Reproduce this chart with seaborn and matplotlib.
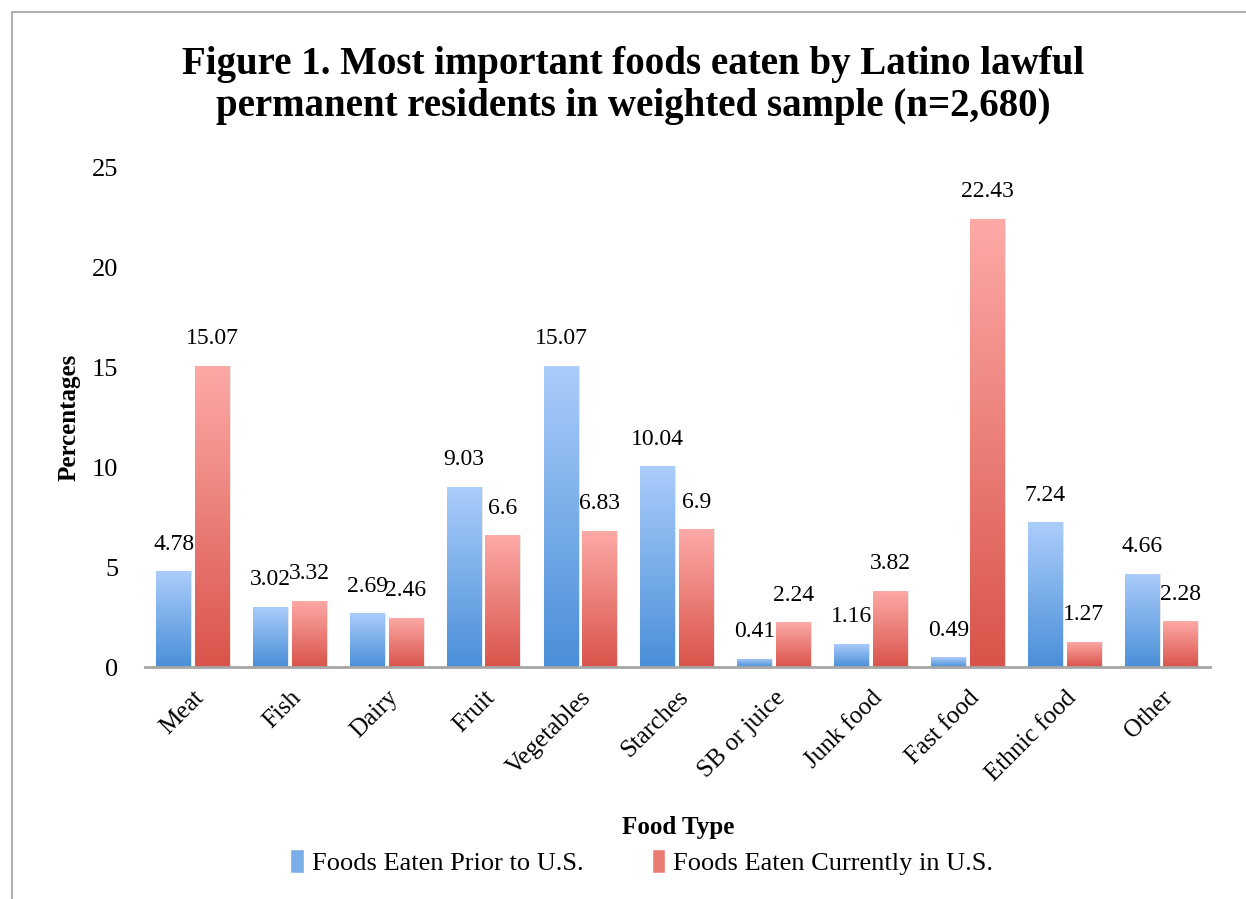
import numpy as np
import pandas as pd
import seaborn as sns
import matplotlib.pyplot as plt
from matplotlib.colors import LinearSegmentedColormap
from matplotlib.patches import Rectangle

categories = ["Meat", "Fish", "Dairy", "Fruit", "Vegetables", "Starches",
              "SB or juice", "Junk food", "Fast food", "Ethnic food", "Other"]
prior = [4.78, 3.02, 2.69, 9.03, 15.07, 10.04, 0.41, 1.16, 0.49, 7.24, 4.66]
current = [15.07, 3.32, 2.46, 6.6, 6.83, 6.9, 2.24, 3.82, 22.43, 1.27, 2.28]
series = ["Foods Eaten Prior to U.S.", "Foods Eaten Currently in U.S."]

df = pd.DataFrame({
    "Food": categories * 2,
    "Series": [series[0]] * len(categories) + [series[1]] * len(categories),
    "Value": prior + current,
})

sns.set_style("white")
plt.rcParams["font.family"] = ["Liberation Serif", "DejaVu Serif"]
for k in ["text.color", "axes.labelcolor", "xtick.color", "ytick.color"]:
    plt.rcParams[k] = "black"

fig = plt.figure(figsize=(12.46, 8.99), dpi=100)
ax = fig.add_axes([0.116, 0.258, 0.855, 0.556])

base = {series[0]: "#5b9bd5", series[1]: "#e06055"}
sns.barplot(data=df, x="Food", y="Value", hue="Series", palette=base,
            width=0.8, gap=0.1, ax=ax, legend=False)

# gradient fills: light at top, darker at bottom
grads = {
    series[0]: LinearSegmentedColormap.from_list("b", ["#4a8fd8", "#abcdfb"]),
    series[1]: LinearSegmentedColormap.from_list("r", ["#d9544a", "#fdaaa7"]),
}
grad_img = np.linspace(0, 1, 256).reshape(-1, 1)
n = len(categories)
for i, p in enumerate(ax.patches[:2 * n]):
    s = series[0] if i < n else series[1]
    x0, w, h = p.get_x(), p.get_width(), p.get_height()
    p.set_facecolor("none")
    p.set_edgecolor("none")
    # soft shadow
    ax.add_patch(Rectangle((x0 + 0.012, 0), w, h, facecolor="#b8b8b8",
                           alpha=0.35, edgecolor="none", zorder=1.5))
    im = ax.imshow(grad_img, cmap=grads[s], origin="lower", aspect="auto",
                   extent=[x0, x0 + w, 0, h], zorder=2)
    clip = Rectangle((x0, 0), w, h, transform=ax.transData)
    im.set_clip_path(clip)

# value labels
for i, c in enumerate(ax.containers):
    vals = prior if i == 0 else current
    for bar, v in zip(c, vals):
        ax.text(bar.get_x() + bar.get_width() / 2, v + 1.35, f"{v:g}",
                ha="center", va="center", fontsize=17)

ax.set_xlim(-0.5, n - 0.5)
ax.set_ylim(0, 25)
ax.set_yticks([0, 5, 10, 15, 20, 25])
ax.tick_params(axis="y", labelsize=19, length=0, pad=19)
ax.tick_params(axis="x", labelsize=18, length=0, pad=14)
plt.setp(ax.get_xticklabels(), rotation=45, ha="right", rotation_mode="anchor")
for sp in ["top", "right", "left"]:
    ax.spines[sp].set_visible(False)
ax.spines["bottom"].set_color("#a6a6a6")
ax.spines["bottom"].set_linewidth(2)
ax.spines["bottom"].set_zorder(3)

ax.set_ylabel("Percentages", fontsize=18, fontweight="bold", labelpad=8)
ax.set_xlabel("")
fig.text(0.544, 0.079, "Food Type", ha="center", va="center",
         fontsize=18, fontweight="bold")

fig.text(0.508, 0.905,
         "Figure 1. Most important foods eaten by Latino lawful\n"
         "permanent residents in weighted sample (n=2,680)",
         ha="center", va="center", fontsize=28, fontweight="bold",
         linespacing=1.15)

# legend
handles = [Rectangle((0, 0), 1, 1, facecolor=c) for c in ["#7aaee9", "#ec7c73"]]
fig.legend(handles, series, loc="center", bbox_to_anchor=(0.515, 0.041),
           ncol=2, frameon=False, fontsize=19, handlelength=0.5,
           handleheight=1.0, handletextpad=0.3, columnspacing=2.6)

# outer border
fig.add_artist(Rectangle((0.0096, -0.01), 1.0, 0.9966, transform=fig.transFigure,
                         facecolor="none", edgecolor="#b0b0b0", linewidth=1.5))

fig.savefig("out.png", dpi=100)
